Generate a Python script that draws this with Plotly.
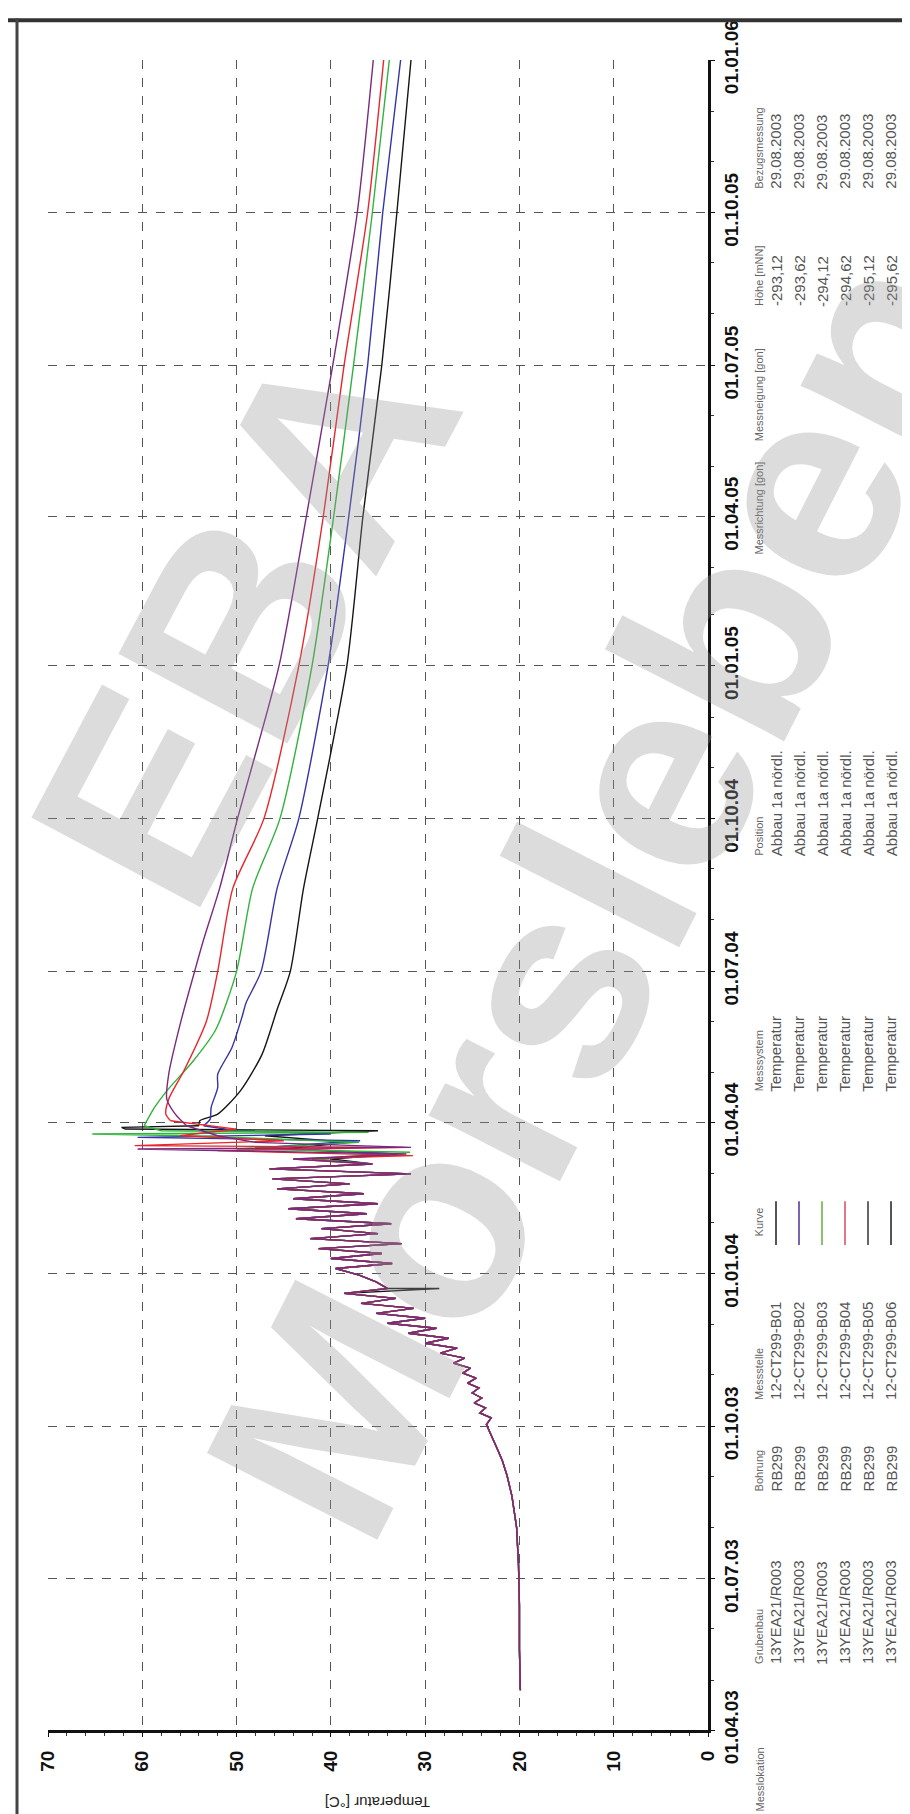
import plotly.graph_objects as go

# ---- figure geometry (pixels) ----
W, H = 910, 1814
L, R, T, B = 40, 700, 42, 1722

# ---- axis ticks ----
tick_dates = ["2003-04-01", "2003-07-01", "2003-10-01", "2004-01-01", "2004-04-01", "2004-07-01",
              "2004-10-01", "2005-01-01", "2005-04-01", "2005-07-01", "2005-10-01", "2006-01-01"]
tick_text = ["01.04.03", "01.07.03", "01.10.03", "01.01.04", "01.04.04", "01.07.04",
             "01.10.04", "01.01.05", "01.04.05", "01.07.05", "01.10.05", "01.01.06"]

# ---- shared warm-up phase (all sensors read alike) ----
pre_dates = ["2003-04-25", "2003-05-20", "2003-06-15", "2003-07-10", "2003-08-01", "2003-08-20",
             "2003-09-01", "2003-09-10", "2003-09-18", "2003-09-24", "2003-09-28", "2003-10-02",
             "2003-10-06", "2003-10-09", "2003-10-12", "2003-10-15", "2003-10-18", "2003-10-21",
             "2003-10-24", "2003-10-27", "2003-10-30", "2003-11-02", "2003-11-05", "2003-11-08",
             "2003-11-11", "2003-11-14", "2003-11-17", "2003-11-20", "2003-11-23", "2003-11-26",
             "2003-11-29", "2003-12-02", "2003-12-05", "2003-12-08", "2003-12-11", "2003-12-14",
             "2003-12-17", "2003-12-20", "2003-12-23", "2003-12-27", "2003-12-31", "2004-01-04",
             "2004-01-07", "2004-01-10", "2004-01-13", "2004-01-16", "2004-01-19", "2004-01-22",
             "2004-01-25", "2004-01-28", "2004-01-31", "2004-02-03", "2004-02-06", "2004-02-09",
             "2004-02-12", "2004-02-15", "2004-02-18", "2004-02-21", "2004-02-24", "2004-02-27",
             "2004-03-01", "2004-03-04", "2004-03-07"]
pre_temp = [19.9, 20.0, 20.0, 20.1, 20.3, 20.8,
            21.3, 21.8, 22.4, 22.9, 23.2, 23.5,
            23.0, 24.2, 23.6, 24.8, 24.0, 25.0,
            24.3, 25.5, 24.6, 26.0, 25.2, 27.0,
            25.8, 28.4, 26.6, 30.0, 27.5, 31.8,
            28.8, 34.0, 30.0, 35.2, 31.2, 36.8,
            33.1, 38.6, 34.0, 35.2, 37.0, 39.5,
            33.5, 40.0, 34.6, 41.3, 32.5, 42.2,
            35.0, 41.0, 33.6, 43.7, 36.2, 44.5,
            35.0, 44.0, 36.5, 45.7, 38.0, 46.2,
            31.5, 46.5, 35.6]

# ---- per-sensor spikes (March 2004) ----
b01_spike_dates = ["2003-12-23", "2004-03-10", "2004-03-13", "2004-03-16", "2004-03-20", "2004-03-24",
                   "2004-03-27", "2004-03-28", "2004-03-29", "2004-03-30"]
b01_spike_temp = [28.5, 40.0, 33.0, 45.0, 38.0, 47.0, 35.0, 61.8, 62.2, 54.0]
b02_spike_dates = ["2004-03-10", "2004-03-13", "2004-03-17", "2004-03-21", "2004-03-23", "2004-03-25",
                   "2004-03-27", "2004-03-30"]
b02_spike_temp = [42.0, 33.0, 47.0, 36.9, 60.5, 40.0, 50.0, 53.5]
b03_spike_dates = ["2004-03-10", "2004-03-14", "2004-03-16", "2004-03-20", "2004-03-24", "2004-03-25",
                   "2004-03-26", "2004-03-27", "2004-03-30"]
b03_spike_temp = [42.0, 31.6, 50.0, 37.0, 55.0, 65.3, 36.0, 58.0, 59.8]
b04_spike_dates = ["2004-03-10", "2004-03-12", "2004-03-15", "2004-03-17", "2004-03-18", "2004-03-21",
                   "2004-03-24", "2004-03-28", "2004-04-02"]
b04_spike_temp = [44.0, 31.3, 52.0, 32.2, 60.8, 45.0, 56.0, 50.0, 57.0]
b06_spike_dates = ["2004-03-10", "2004-03-13", "2004-03-16", "2004-03-17", "2004-03-20", "2004-03-24",
                   "2004-03-30"]
b06_spike_temp = [44.0, 32.0, 60.5, 31.5, 48.0, 52.0, 55.3]

# ---- per-sensor cooling phase ----
b01_cool_dates = ["2004-03-30", "2004-04-02", "2004-04-06", "2004-04-20", "2004-05-12", "2004-06-08",
                  "2004-07-01", "2004-08-20", "2004-10-01", "2005-01-01", "2005-04-01", "2005-07-01",
                  "2005-10-01", "2006-01-01"]
b01_cool_temp = [54.0, 53.9, 52.0, 49.6, 47.3, 45.7, 44.3, 42.9, 41.4, 38.3, 36.6, 34.6, 33.0, 31.5]
b02_cool_dates = ["2004-03-30", "2004-04-03", "2004-04-10", "2004-04-22", "2004-04-30", "2004-05-16",
                  "2004-06-04", "2004-06-12", "2004-07-01", "2004-08-20", "2004-10-01", "2005-01-01",
                  "2005-04-01", "2005-07-01", "2005-10-01", "2006-01-01"]
b02_cool_temp = [53.5, 52.8, 52.7, 52.0, 52.0, 50.5, 49.4, 49.0, 47.4, 45.7, 43.4, 40.3,
                 38.1, 36.1, 34.5, 32.6]
b03_cool_dates = ["2004-03-30", "2004-04-10", "2004-04-20", "2004-05-08", "2004-05-27", "2004-07-01",
                  "2004-08-20", "2004-10-01", "2005-01-01", "2005-04-01", "2005-07-01", "2005-10-01",
                  "2006-01-01"]
b03_cool_temp = [59.8, 58.7, 57.4, 54.6, 52.2, 50.0, 48.3, 45.4, 42.0, 39.7, 37.6, 35.6, 33.8]
b04_cool_dates = ["2004-04-02", "2004-04-06", "2004-04-15", "2004-05-02", "2004-06-01", "2004-07-01",
                  "2004-08-20", "2004-10-01", "2005-01-01", "2005-04-01", "2005-07-01", "2005-10-01",
                  "2006-01-01"]
b04_cool_temp = [57.0, 57.5, 57.2, 55.6, 53.2, 52.0, 50.4, 47.1, 43.4, 40.8, 38.6, 36.1, 34.4]
b06_cool_dates = ["2004-03-30", "2004-04-06", "2004-04-15", "2004-04-30", "2004-06-01", "2004-07-02",
                  "2004-07-20", "2004-08-20", "2004-10-01", "2005-01-01", "2005-04-01", "2005-07-01",
                  "2005-10-01", "2006-01-01"]
b06_cool_temp = [55.3, 56.5, 57.4, 57.2, 55.9, 54.4, 53.5, 51.8, 49.9, 45.5, 42.6, 39.8, 37.2, 35.5]

# ---- legend table ----
sensors = ["12-CT299-B01", "12-CT299-B02", "12-CT299-B03", "12-CT299-B04", "12-CT299-B05", "12-CT299-B06"]
grubenbau = ["13YEA21/R003"] * 6
bohrung = ["RB299"] * 6
messsystem = ["Temperatur"] * 6
position = ["Abbau 1a nördl."] * 6
hoehe = ["-293,12", "-293,62", "-294,12", "-294,62", "-295,12", "-295,62"]
bezug = ["29.08.2003"] * 6

line_colors = {"B01": "#151515", "B02": "#3434a8", "B03": "#2fb33a", "B04": "#e8262c", "B06": "#7a2a7e"}
kurve_colors = ["#555555", "#7a63b0", "#86c46a", "#e2778a", "#666666", "#555555"]


def px(x):
    return (x - L) / (R - L)


def py(y):
    return (B - y) / (B - T)


fig = go.Figure()
series = [("B01", b01_spike_dates, b01_spike_temp, b01_cool_dates, b01_cool_temp),
          ("B02", b02_spike_dates, b02_spike_temp, b02_cool_dates, b02_cool_temp),
          ("B03", b03_spike_dates, b03_spike_temp, b03_cool_dates, b03_cool_temp),
          ("B04", b04_spike_dates, b04_spike_temp, b04_cool_dates, b04_cool_temp),
          ("B06", b06_spike_dates, b06_spike_temp, b06_cool_dates, b06_cool_temp)]
for key, sd, st, cd, ct in series:
    pts = sorted(list(zip(pre_dates, pre_temp)) + list(zip(sd, st)))
    fig.add_trace(go.Scatter(x=[p[1] for p in pts], y=[p[0] for p in pts], mode="lines",
                             line=dict(color=line_colors[key], width=1.4), showlegend=False))
    fig.add_trace(go.Scatter(x=ct, y=cd, mode="lines",
                             line=dict(color=line_colors[key], width=1.4, shape="spline", smoothing=0.7),
                             showlegend=False))

font_fam = "Liberation Sans, Arial, sans-serif"
axis_style = dict(showgrid=True, gridcolor="#555", griddash="dash", gridwidth=1,
                  showline=True, linecolor="#111", linewidth=3, zeroline=False,
                  ticks="outside", ticklen=4, tickcolor="#111", tickangle=-90,
                  tickfont=dict(family=font_fam, size=19, color="#111", weight="bold"))
fig.update_xaxes(range=[70, 0], tick0=0, dtick=10, ticklabelstandoff=6,
                 minor=dict(dtick=2, ticks="outside", ticklen=3, tickcolor="#333", showgrid=False),
                 **axis_style)
fig.update_yaxes(type="date", side="right", range=["2003-04-01", "2006-01-01"],
                 tickmode="array", tickvals=tick_dates, ticktext=tick_text,
                 minor=dict(dtick="M1", ticks="outside", ticklen=3, tickcolor="#333", showgrid=False),
                 **axis_style)

ann = []
# axis title, upside-down like the scanned page
ann.append(dict(x=0.5, y=py(1795), xref="paper", yref="paper", text="Temperatur [°C]",
                xanchor="center", yanchor="middle", textangle=180, showarrow=False,
                font=dict(family=font_fam, size=15, color="#222")))

# legend table, rotated with the page
hx, row_x = 751, [768, 791, 814, 837, 860, 883]
columns = [("Messlokation", [], 1806), ("Grubenbau", grubenbau, 1658), ("Bohrung", bohrung, 1484),
           ("Messstelle", sensors, 1392), ("Kurve", [], 1228), ("Messsystem", messsystem, 1082),
           ("Position", position, 845), ("Messrichtung [gon]", [], 542), ("Messneigung [gon]", [], 428),
           ("Höhe [mNN]", hoehe, 292), ("Bezugsmessung", bezug, 174)]
for head, rows, yb in columns:
    ann.append(dict(x=px(hx), y=py(yb), xref="paper", yref="paper", text=head, textangle=-90,
                    xanchor="center", yanchor="bottom", showarrow=False,
                    font=dict(family=font_fam, size=11, color="#666")))
    for xr, val in zip(row_x, rows):
        ann.append(dict(x=px(xr), y=py(yb), xref="paper", yref="paper", text=val, textangle=-90,
                        xanchor="center", yanchor="bottom", showarrow=False,
                        font=dict(family=font_fam, size=15, color="#555")))

# watermark
wm_font = dict(family=font_fam, size=278, color="rgba(150,150,150,0.33)")
ann.append(dict(x=px(236), y=py(605), xref="paper", yref="paper", text="<b>EBA</b>", textangle=-62,
                xanchor="center", yanchor="middle", showarrow=False, font=wm_font))
ann.append(dict(x=px(590), y=py(880), xref="paper", yref="paper", text="<b>Morsleben</b>", textangle=-63,
                xanchor="center", yanchor="middle", showarrow=False, font=wm_font))

shapes = []
for xr, c in zip(row_x, kurve_colors):
    shapes.append(dict(type="line", xref="paper", yref="paper", x0=px(xr), x1=px(xr),
                       y0=py(1190), y1=py(1234), line=dict(color=c, width=2)))
# scan frame (top and left edges)
shapes.append(dict(type="line", xref="paper", yref="paper", x0=px(0), x1=px(W), y0=py(2), y1=py(2),
                   line=dict(color="#333", width=4)))
shapes.append(dict(type="line", xref="paper", yref="paper", x0=px(9), x1=px(9), y0=py(0), y1=py(H),
                   line=dict(color="#444", width=3)))

fig.update_layout(width=W, height=H, margin=dict(l=L, r=W - R, t=T, b=H - B),
                  plot_bgcolor="white", paper_bgcolor="white",
                  annotations=ann, shapes=shapes, showlegend=False)

fig.write_html("out.html")
